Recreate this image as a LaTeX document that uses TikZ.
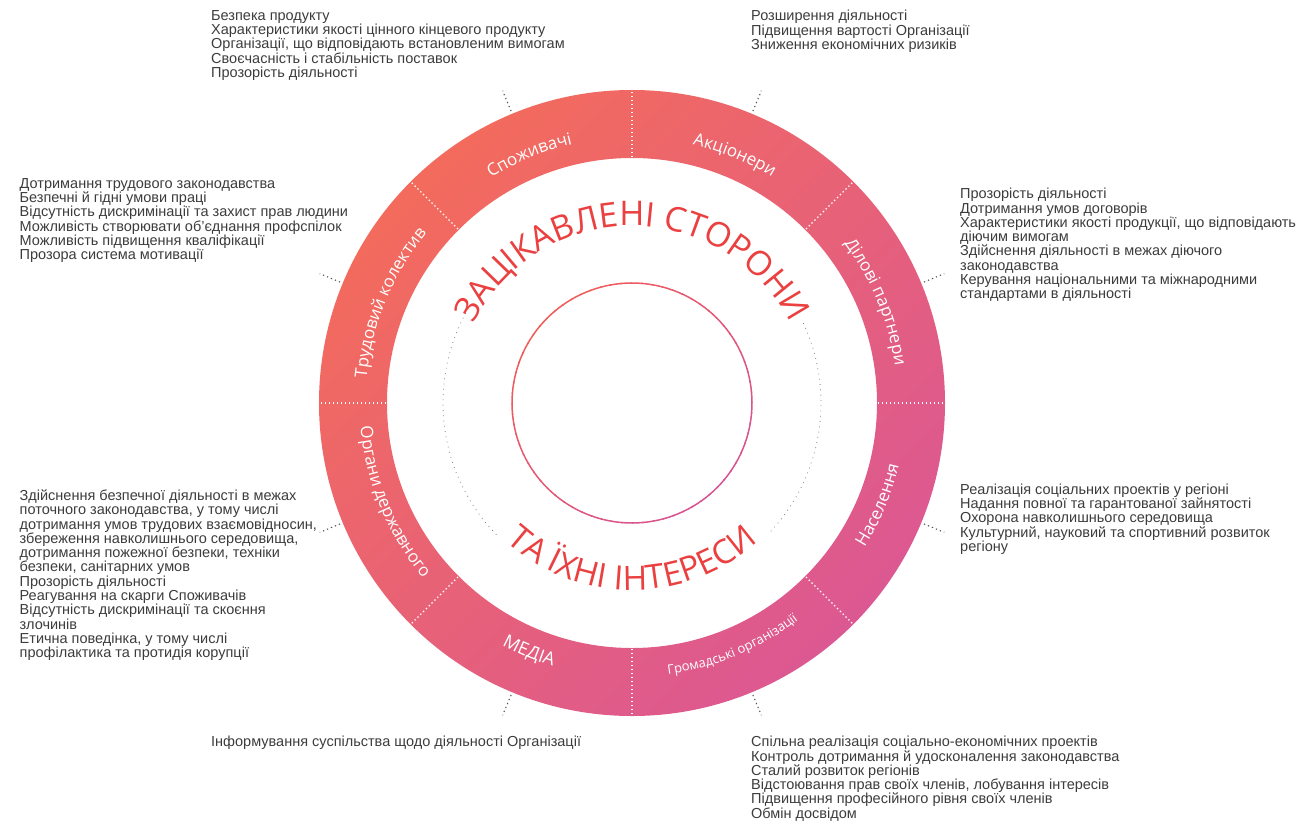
\documentclass[tikz,border=0pt]{standalone}
\usepackage{fontspec}
\setmainfont{Liberation Sans}
\newfontfamily\osans{Open Sans}
\usetikzlibrary{decorations.text}
\definecolor{txt}{RGB}{60,60,60}
\definecolor{ringA}{RGB}{243,107,92}
\definecolor{ringB}{RGB}{220,88,146}
\definecolor{circA}{RGB}{240,92,90}
\definecolor{circB}{RGB}{214,84,146}
\definecolor{bigred}{RGB}{234,64,64}
\definecolor{dotc}{RGB}{140,125,110}
\definecolor{conn}{RGB}{85,85,85}
\newcommand\labfont{\osans\fontsize{17}{20}\selectfont}
\newcommand\medlabfont{\osans\fontsize{18}{20}\selectfont}
\newcommand\smlabfont{\osans\fontsize{13}{16}\selectfont}
\newcommand\infofont{\fontsize{14.5}{14.3}\selectfont}
\setlength{\lineskiplimit}{-100pt}
\setlength{\lineskip}{0pt}
\begin{document}
\begin{tikzpicture}[x=1pt,y=1pt,
  infotext/.style={anchor=north west, inner sep=0pt, align=left, text=txt, font=\infofont},
  divider/.style={white, line width=1.2pt, dash pattern=on 1.4pt off 2.6pt},
  connector/.style={conn, line width=1.1pt, dash pattern=on 1.3pt off 3pt},
  dotring/.style={dotc, line width=0.8pt, dash pattern=on 0.8pt off 4.5pt},
  outlabel/.style={decorate, decoration={text along path, text align=center, text color=white}},
]
\useasboundingbox (-632,-417) rectangle (676,403);
% ring
\shade[top color=ringA, bottom color=ringB, shading angle=45, even odd rule] (0,0) circle (313) (0,0) circle (245);
\foreach \a in {0,45,...,315} \draw[divider] (\a:246) -- (\a:312);
% inner circle with gradient stroke
\foreach \a in {0,5,...,355} {
  \pgfmathsetmacro\tmix{50+50*cos(\a+2.5-135)}
  \draw[line width=1.5pt, draw=circA!\tmix!circB] (\a:120) arc[start angle=\a, end angle=\a+5.6, radius=120];
}
% dotted ring
\draw[dotring] (25:189) arc[start angle=25, end angle=-44, radius=189];
\draw[dotring] (150:189) arc[start angle=150, end angle=225, radius=189];
% big arc texts
\path[decorate, decoration={text along path, text align=center, text color=bigred,
  text={|\osans\fontsize{34}{40}\selectfont|ЗАЦІКАВЛЕНІ СТОРОНИ}}]
  (160:177) arc[start angle=160, end angle=20, radius=177];
\path[decorate, decoration={text along path, text align=center, text color=bigred,
  text={|\osans\fontsize{33.5}{38}\selectfont|ТА ЇХНІ ІНТЕРЕСИ}}]
  (215:187) arc[start angle=215, end angle=325, radius=187];
% segment labels (outward)
\path[outlabel, decoration={text={|\labfont|Споживачі}}] (157.5:265.5) arc[start angle=157.5, end angle=67.5, radius=265.5];
\path[outlabel, decoration={text={|\labfont|Акціонери}}] (112.5:265.5) arc[start angle=112.5, end angle=22.5, radius=265.5];
\path[outlabel, decoration={text={|\labfont|Ділові партнери}}] (67.5:265.5) arc[start angle=67.5, end angle=-22.5, radius=265.5];
\path[outlabel, decoration={text={|\labfont|Трудовий колектив}}] (202.5:266.5) arc[start angle=202.5, end angle=112.5, radius=266.5];
% segment labels (inward)
\path[outlabel, decoration={text={|\labfont|Населення}}] (-67.5:274) arc[start angle=-67.5, end angle=22.5, radius=274];
\path[outlabel, decoration={text={|\smlabfont|Громадські організації}}] (-112.5:273.5) arc[start angle=-112.5, end angle=-22.5, radius=273.5];
\path[outlabel, decoration={text={|\medlabfont|МЕДІА}}] (-157.5:275) arc[start angle=-157.5, end angle=-67.5, radius=275];
\path[outlabel, decoration={text={|\labfont|Органи державного}}] (-202.5:272.5) arc[start angle=-202.5, end angle=-112.5, radius=272.5];
% outer connectors
\foreach \a [count=\i] in {112.5,67.5,22.5,-22.5,-67.5,-112.5,-157.5,157.5} {
  \coordinate (ca\i) at (\a:316);
  \coordinate (cb\i) at (\a:338);
  \draw[connector] (ca\i) -- (cb\i);
}
% info blocks
\node[infotext] (consumers) at (-421,393) {\strut Безпека продукту\\Характеристики якості цінного кінцевого продукту\\Організації, що відповідають встановленим вимогам\\Своєчасність і стабільність поставок\\Прозорість діяльності};
\node[infotext] (shareholders) at (119,393) {\strut Розширення діяльності\\Підвищення вартості Організації\\Зниження економічних ризиків};
\node[infotext] (staff) at (-612.5,225) {\strut Дотримання трудового законодавства\\Безпечні й гідні умови праці\\Відсутність дискримінації та захист прав людини\\Можливість створювати об’єднання профспілок\\Можливість підвищення кваліфікації\\Прозора система мотивації};
\node[infotext] (partners) at (328,215) {\strut Прозорість діяльності\\Дотримання умов договорів\\Характеристики якості продукції, що відповідають\\діючим вимогам\\Здійснення діяльності в межах діючого\\законодавства\\Керування національними та міжнародними\\стандартами в діяльності};
\node[infotext] (government) at (-612.5,-86.5) {\strut Здійснення безпечної діяльності в межах\\поточного законодавства, у тому числі\\дотримання умов трудових взаємовідносин,\\збереження навколишнього середовища,\\дотримання пожежної безпеки, техніки\\безпеки, санітарних умов\\Прозорість діяльності\\Реагування на скарги Споживачів\\Відсутність дискримінації та скоєння\\злочинів\\Етична поведінка, у тому числі\\профілактика та протидія корупції};
\node[infotext] (population) at (328,-80.5) {\strut Реалізація соціальних проектів у регіоні\\Надання повної та гарантованої зайнятості\\Охорона навколишнього середовища\\Культурний, науковий та спортивний розвиток\\регіону};
\node[infotext] (media) at (-421,-333) {\strut Інформування суспільства щодо діяльності Організації};
\node[infotext] (ngos) at (119,-333) {\strut Спільна реалізація соціально-економічних проектів\\Контроль дотримання й удосконалення законодавства\\Сталий розвиток регіонів\\Відстоювання прав своїх членів, лобування інтересів\\Підвищення професійного рівня своїх членів\\Обмін досвідом};
\end{tikzpicture}
\end{document}
